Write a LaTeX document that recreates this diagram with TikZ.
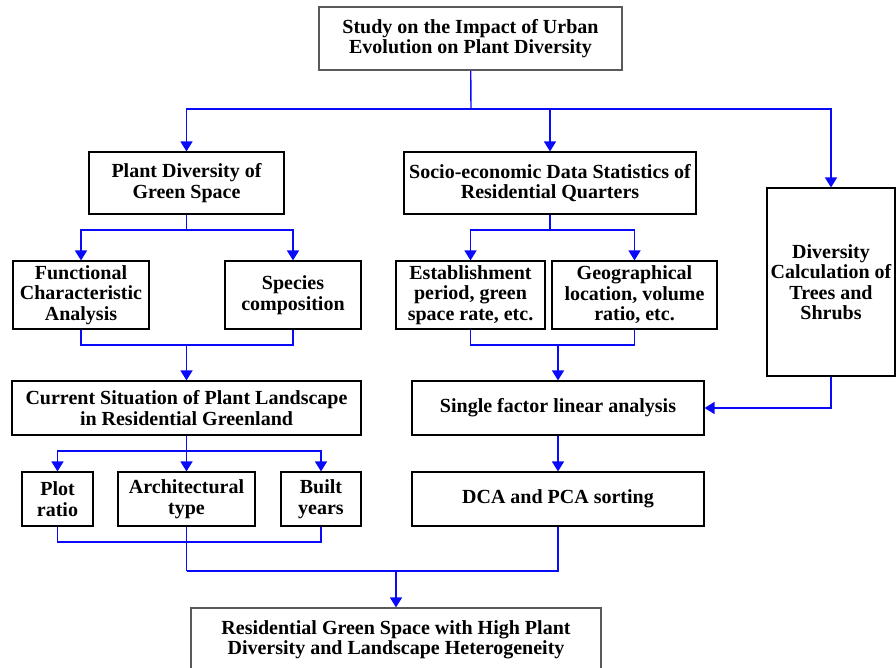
\documentclass[tikz,border=0pt]{standalone}
\usepackage{fontspec}
\setmainfont{Liberation Serif}
\usepackage{tikz}
\usetikzlibrary{arrows.meta}

\definecolor{linkblue}{RGB}{10,10,250}
\definecolor{framegray}{RGB}{90,90,90}

\begin{document}
\begin{tikzpicture}[x=1pt, y=-1pt,
  box/.style={draw=black, line width=1.1pt, fill=white, inner sep=0pt, align=center,
    font=\bfseries\fontsize{20}{20.5}\selectfont},
  softbox/.style={box, draw=framegray},
  link/.style={draw=linkblue, line width=1.4pt},
  arr/.style={link, -{Triangle[width=12pt,length=10pt]}}]
\useasboundingbox (0,0) rectangle (896,668);
\clip (0,0) rectangle (896,668);

% boxes
\node[softbox, minimum width=303pt, minimum height=63pt] (study) at (470.5,38.5)
  {Study on the Impact of Urban\\Evolution on Plant Diversity};
\node[box, minimum width=195pt, minimum height=62pt] (plantdiv) at (186.5,183)
  {Plant Diversity of\\Green Space};
\node[box, minimum width=292pt, minimum height=62pt] (socio) at (550,183)
  {Socio-economic Data Statistics of\\Residential Quarters};
\node[box, minimum width=128pt, minimum height=188pt] (divcalc) at (831,282)
  {Diversity\\Calculation of\\Trees and\\Shrubs};
\node[box, minimum width=136pt, minimum height=68pt] (func) at (81,295)
  {Functional\\Characteristic\\Analysis};
\node[box, minimum width=136pt, minimum height=68pt] (species) at (293,295)
  {Species\\composition};
\node[box, minimum width=149pt, minimum height=68pt] (estab) at (470.5,295)
  {Establishment\\period, green\\space rate, etc.};
\node[box, minimum width=165pt, minimum height=68pt] (geo) at (634.5,295)
  {Geographical\\location, volume\\ratio, etc.};
\node[box, minimum width=349pt, minimum height=54pt] (current) at (186.5,408)
  {Current Situation of Plant Landscape\\in Residential Greenland};
\node[box, minimum width=292pt, minimum height=54pt] (single) at (558,408)
  {Single factor linear analysis};
\node[box, minimum width=71pt, minimum height=54pt] (plot) at (57.5,499)
  {Plot\\ratio};
\node[box, minimum width=137pt, minimum height=54pt] (arch) at (186.5,499)
  {Architectural\\type};
\node[box, minimum width=80pt, minimum height=54pt] (built) at (321,499)
  {Built\\years};
\node[box, minimum width=292pt, minimum height=54pt] (dca) at (558,499)
  {DCA and PCA sorting};
\node[softbox, minimum width=410pt, minimum height=64pt] (result) at (396,640)
  {Residential Green Space with High Plant\\Diversity and Landscape Heterogeneity};

% junctions
\coordinate (top) at (471,109);
\coordinate (leftsplit) at (186.5,230);
\coordinate (midsplit) at (550,230);
\coordinate (leftjoin) at (186.5,345);
\coordinate (midjoin) at (558,345);
\coordinate (lowsplit) at (186.5,451);
\coordinate (lowjoin) at (186.5,542);
\coordinate (bottom) at (186.5,571);
\coordinate (merge) at (396,571);

% connectors
\draw[link] (study) -- (top);
\draw[arr] (top) -| (plantdiv);
\draw[arr] (top) -| (socio);
\draw[arr] (top) -| (divcalc);

\draw[link] (plantdiv) -- (leftsplit);
\draw[arr] (leftsplit) -| (func);
\draw[arr] (leftsplit) -| (species);
\draw[link] (socio) -- (midsplit);
\draw[arr] (midsplit) -| (estab);
\draw[arr] (midsplit) -| (geo);

\draw[link] (func) |- (leftjoin) -| (species);
\draw[arr] (leftjoin) -- (current);
\draw[link] (estab) |- (midjoin) -| (geo);
\draw[arr] (midjoin) -- (single);
\draw[arr] (divcalc) |- (single);

\draw[link] (current) -- (lowsplit);
\draw[arr] (lowsplit) -| (plot);
\draw[arr] (lowsplit) -- (arch);
\draw[arr] (lowsplit) -| (built);
\draw[arr] (single) -- (dca);

\draw[link] (plot) |- (lowjoin) -| (built);
\draw[link] (arch) -- (bottom);
\draw[link] (dca) |- (bottom);
\draw[arr] (merge) -- (result);
\end{tikzpicture}
\end{document}
